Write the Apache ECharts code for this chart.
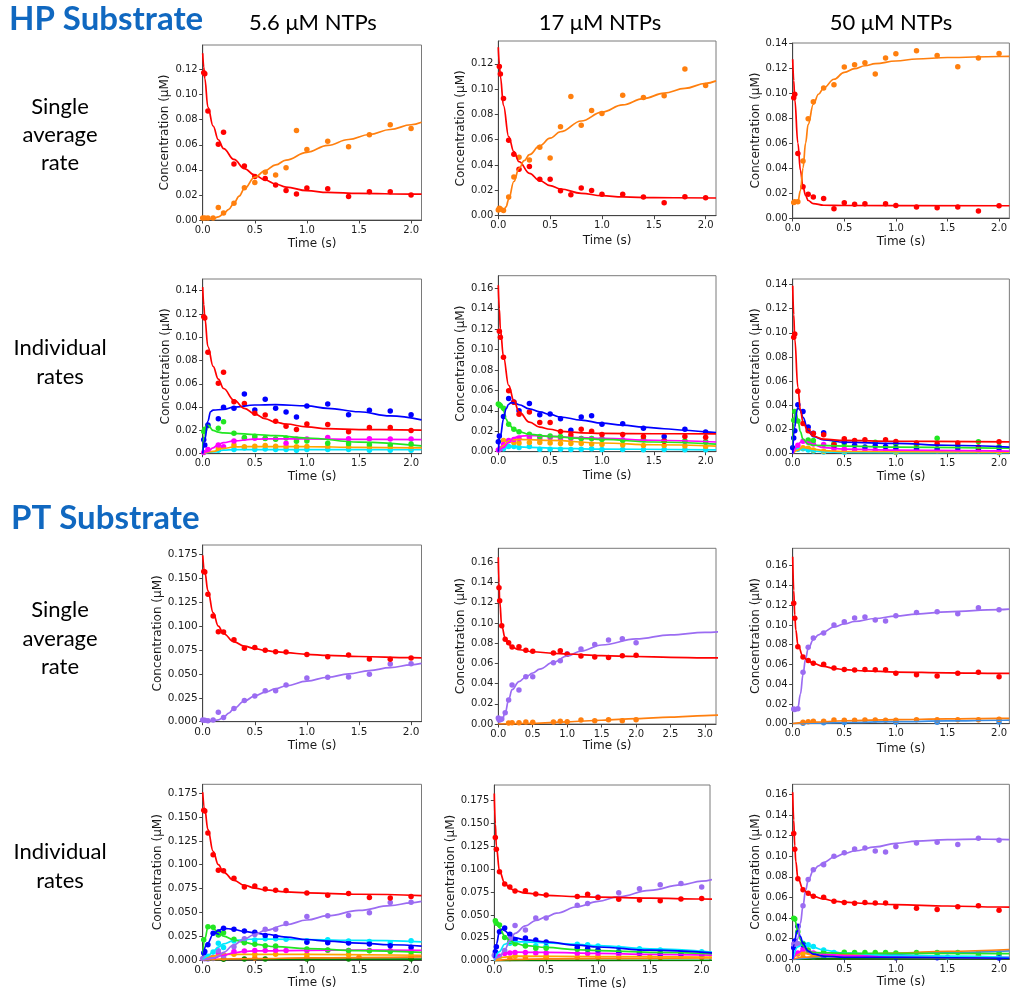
<!DOCTYPE html>
<html><head><meta charset="utf-8">
<script src="https://cdn.jsdelivr.net/npm/echarts@6/dist/echarts.min.js"></script>
<style>html,body{margin:0;padding:0;background:#fff}#c{width:1010px;height:993px}</style>
</head><body><div id="c"></div>
<script>
// ---------- tick labels ----------
const xTicks2 = [0, 0.5, 1.0, 1.5, 2.0];
const xTicks3 = [0, 0.5, 1.0, 1.5, 2.0, 2.5, 3.0];
const yTicks12 = [0, 0.02, 0.04, 0.06, 0.08, 0.10, 0.12];
const yTicks14 = [0, 0.02, 0.04, 0.06, 0.08, 0.10, 0.12, 0.14];
const yTicks16 = [0, 0.02, 0.04, 0.06, 0.08, 0.10, 0.12, 0.14, 0.16];
const yTicks175 = [0, 0.025, 0.05, 0.075, 0.1, 0.125, 0.15, 0.175];

// ---------- text ----------
const substrateTitles = ['HP Substrate', 'PT Substrate'];
const columnTitles = ['5.6 \u03bcM NTPs', '17 \u03bcM NTPs', '50 \u03bcM NTPs'];
const rowTitles = [['Single', 'average', 'rate'], ['Individual', 'rates']];
const xTitle = 'Time (s)';
const yTitle = 'Concentration (\u03bcM)';

// ---------- HP 5.6 uM ----------
const hp56_red_pts = [[0.01,0.1175],[0.02,0.1166],[0.05,0.087],[0.15,0.0605],[0.2,0.070],[0.3,0.0446],[0.4,0.043],[0.5,0.0348],[0.6,0.0332],[0.7,0.0279],[0.8,0.0236],[0.9,0.0207],[1.0,0.0255],[1.2,0.025],[1.4,0.0188],[1.6,0.0226],[1.8,0.0226],[2.0,0.020]];
const hp56_orange_pts = [[0,0.0015],[0.02,0.0015],[0.05,0.0015],[0.1,0.0015],[0.15,0.010],[0.2,0.0056],[0.3,0.0133],[0.4,0.0258],[0.5,0.030],[0.6,0.038],[0.7,0.0358],[0.8,0.0417],[0.9,0.0714],[1.0,0.0563],[1.2,0.0629],[1.4,0.0584],[1.6,0.068],[1.8,0.0759],[2.0,0.073]];
const hp56s_red_fit = [[0,0.133],[0.01,0.122],[0.02,0.113],[0.05,0.090],[0.1,0.075],[0.15,0.064],[0.2,0.057],[0.3,0.0483],[0.4,0.041],[0.5,0.0358],[0.6,0.0319],[0.7,0.0287],[0.8,0.0263],[1.0,0.0234],[1.2,0.022],[1.5,0.0212],[2.0,0.0207],[2.1,0.0207]];
const hp56s_orange_fit = [[0,0.0005],[0.1,0.001],[0.15,0.0025],[0.2,0.005],[0.25,0.0085],[0.3,0.0135],[0.35,0.019],[0.4,0.025],[0.5,0.0342],[0.6,0.0395],[0.7,0.044],[0.8,0.0478],[1.0,0.054],[1.2,0.0595],[1.4,0.0642],[1.6,0.0682],[1.8,0.0722],[2.0,0.076],[2.1,0.078]];
const hp56i_red_fit = [[0,0.143],[0.01,0.128],[0.02,0.117],[0.05,0.092],[0.1,0.075],[0.15,0.064],[0.2,0.056],[0.3,0.046],[0.4,0.039],[0.5,0.034],[0.6,0.030],[0.7,0.027],[0.8,0.0255],[1.0,0.023],[1.2,0.0215],[1.5,0.0207],[2.1,0.0203]];
const hp56_blue_pts = [[0.01,0.012],[0.02,0.0074],[0.05,0.0246],[0.15,0.030],[0.2,0.0398],[0.3,0.039],[0.4,0.0512],[0.5,0.0375],[0.6,0.0467],[0.7,0.039],[0.8,0.0358],[0.9,0.0315],[1.0,0.041],[1.2,0.0427],[1.4,0.0335],[1.6,0.0372],[1.8,0.0366],[2.0,0.0335]];
const hp56_blue_fit = [[0,0],[0.02,0.012],[0.05,0.028],[0.075,0.036],[0.1,0.0375],[0.2,0.038],[0.3,0.040],[0.5,0.0418],[0.7,0.0422],[1.0,0.041],[1.2,0.039],[1.5,0.036],[1.8,0.0325],[2.1,0.029]];
const hp56_green_pts = [[0.01,0.019],[0.02,0.021],[0.05,0.024],[0.15,0.0218],[0.2,0.0275],[0.3,0.0175],[0.4,0.014],[0.5,0.015],[0.6,0.013],[0.7,0.0125],[0.8,0.0135],[0.9,0.0106],[1.0,0.011],[1.2,0.0089],[1.4,0.0085],[1.6,0.0077],[1.8,0.0074],[2.0,0.0083]];
const hp56_green_fit = [[0,0.003],[0.02,0.018],[0.04,0.025],[0.05,0.0245],[0.1,0.02],[0.15,0.0185],[0.2,0.0178],[0.3,0.0175],[0.5,0.0165],[0.7,0.0155],[1.0,0.0135],[1.5,0.010],[2.1,0.0067]];
const hp56_magenta_pts = [[0.01,0.001],[0.05,0.0037],[0.15,0.0074],[0.2,0.006],[0.3,0.0109],[0.4,0.0132],[0.5,0.0132],[0.6,0.0132],[0.7,0.0126],[0.8,0.0089],[0.9,0.0126],[1.0,0.0126],[1.2,0.014],[1.4,0.0129],[1.6,0.0129],[1.8,0.0126],[2.0,0.0126]];
const hp56_magenta_fit = [[0,0],[0.05,0.002],[0.1,0.005],[0.15,0.008],[0.2,0.0095],[0.3,0.011],[0.5,0.0125],[0.7,0.0128],[1.0,0.0127],[1.5,0.0123],[2.1,0.012]];
const hp56_gold_pts = [[0.15,0.005],[0.3,0.0075],[0.4,0.006],[0.5,0.0065],[0.6,0.007],[0.7,0.0065],[0.8,0.006],[0.9,0.006],[1.0,0.0062],[1.2,0.006],[1.4,0.006],[1.6,0.0055],[1.8,0.0055],[2.0,0.005]];
const hp56_gold_fit = [[0,0],[0.1,0.002],[0.2,0.0045],[0.3,0.0058],[0.5,0.0062],[1.0,0.006],[1.5,0.0055],[2.1,0.005]];
const hp56_cyan_pts = [[0.15,0.003],[0.3,0.0037],[0.4,0.005],[0.5,0.0035],[0.6,0.004],[0.7,0.0035],[0.8,0.0035],[0.9,0.003],[1.0,0.0035],[1.2,0.0035],[1.4,0.0035],[1.6,0.003],[1.8,0.003],[2.0,0.003]];
const hp56_cyan_fit = [[0,0],[0.1,0.0015],[0.2,0.003],[0.3,0.0035],[1.0,0.0036],[2.1,0.0034]];

// ---------- HP 17 uM ----------
const hp17_red_pts = [[0.01,0.1179],[0.02,0.112],[0.05,0.0926],[0.1,0.0596],[0.15,0.0485],[0.2,0.0367],[0.3,0.0388],[0.4,0.0287],[0.5,0.0287],[0.6,0.0198],[0.7,0.0166],[0.8,0.0219],[0.9,0.020],[1.0,0.0169],[1.2,0.0169],[1.4,0.0148],[1.6,0.0103],[1.8,0.015],[2.0,0.0142]];
const hp17_orange_pts = [[0,0.0045],[0.01,0.0058],[0.02,0.0053],[0.05,0.0042],[0.1,0.0148],[0.15,0.0306],[0.2,0.0462],[0.3,0.044],[0.4,0.054],[0.5,0.0456],[0.6,0.0702],[0.7,0.0942],[0.8,0.0715],[0.9,0.0831],[1.0,0.0807],[1.2,0.0952],[1.4,0.0934],[1.6,0.0947],[1.8,0.1158],[2.0,0.1029]];
const hp17s_red_fit = [[0,0.133],[0.01,0.12],[0.02,0.11],[0.05,0.087],[0.1,0.0625],[0.15,0.0506],[0.2,0.0427],[0.3,0.0335],[0.4,0.0277],[0.5,0.0237],[0.6,0.0211],[0.8,0.0177],[1.0,0.0158],[1.2,0.0148],[1.5,0.0142],[2.1,0.014]];
const hp17s_orange_fit = [[0,0.004],[0.05,0.004],[0.075,0.007],[0.1,0.013],[0.15,0.027],[0.2,0.0374],[0.25,0.0435],[0.3,0.0482],[0.4,0.0553],[0.5,0.0612],[0.6,0.0663],[0.8,0.0748],[1.0,0.0818],[1.2,0.0875],[1.4,0.0925],[1.6,0.0968],[1.8,0.1006],[2.0,0.1045],[2.1,0.1065]];
const hp17i_red_fit = [[0,0.163],[0.01,0.14],[0.02,0.12],[0.05,0.093],[0.1,0.065],[0.15,0.05],[0.2,0.039],[0.3,0.029],[0.4,0.024],[0.5,0.022],[0.6,0.020],[0.7,0.0193],[0.8,0.0185],[1.0,0.018],[1.5,0.0176],[2.1,0.0175]];
const hp17_blue_pts = [[0,0.0098],[0.01,0.0153],[0.05,0.0346],[0.1,0.0522],[0.15,0.0487],[0.2,0.0402],[0.3,0.0473],[0.4,0.0362],[0.5,0.0369],[0.6,0.0323],[0.7,0.0209],[0.8,0.034],[0.9,0.0353],[1.0,0.0268],[1.2,0.0274],[1.4,0.0229],[1.6,0.015],[1.8,0.0219],[2.0,0.0193]];
const hp17_blue_fit = [[0,0],[0.02,0.015],[0.05,0.032],[0.075,0.042],[0.1,0.0465],[0.125,0.048],[0.15,0.0478],[0.2,0.046],[0.3,0.042],[0.4,0.039],[0.5,0.0365],[0.6,0.034],[0.8,0.031],[1.0,0.028],[1.2,0.026],[1.4,0.024],[1.6,0.0225],[1.8,0.021],[2.0,0.0195],[2.1,0.0188]];
const hp17_green_pts = [[0,0.0467],[0.01,0.046],[0.02,0.045],[0.05,0.0425],[0.1,0.0268],[0.15,0.022],[0.2,0.0196],[0.3,0.017],[0.4,0.015],[0.5,0.0155],[0.6,0.015],[0.7,0.014],[0.8,0.013],[0.9,0.013],[1.0,0.012],[1.2,0.011],[1.4,0.012],[1.6,0.011],[1.8,0.0105],[2.0,0.0098]];
const hp17_green_fit = [[0,0.047],[0.02,0.046],[0.05,0.040],[0.075,0.032],[0.1,0.027],[0.15,0.022],[0.2,0.0195],[0.3,0.017],[0.5,0.015],[0.8,0.013],[1.0,0.012],[1.5,0.0095],[2.1,0.0075]];
const hp17_magenta_pts = [[0,0.0016],[0.02,0.003],[0.05,0.007],[0.1,0.011],[0.15,0.012],[0.2,0.013],[0.3,0.014],[0.4,0.013],[0.5,0.0137],[0.6,0.013],[0.7,0.013],[0.8,0.013],[0.9,0.013],[1.0,0.0127],[1.2,0.0118],[1.4,0.0118],[1.6,0.0108],[1.8,0.010],[2.0,0.0098]];
const hp17_magenta_fit = [[0,0],[0.05,0.004],[0.1,0.009],[0.15,0.0135],[0.2,0.0152],[0.3,0.0158],[0.4,0.0155],[0.5,0.015],[0.8,0.0138],[1.0,0.013],[1.5,0.0112],[2.1,0.0095]];
const hp17_gold_pts = [[0.05,0.011],[0.1,0.0108],[0.15,0.009],[0.2,0.0085],[0.3,0.009],[0.4,0.009],[0.5,0.0085],[0.6,0.008],[0.7,0.008],[0.8,0.008],[0.9,0.0075],[1.0,0.007],[1.2,0.0065],[1.4,0.006],[1.6,0.006],[1.8,0.0055],[2.0,0.005]];
const hp17_gold_fit = [[0,0],[0.05,0.006],[0.1,0.0105],[0.15,0.0118],[0.2,0.012],[0.3,0.0118],[0.5,0.011],[1.0,0.0085],[1.5,0.0068],[2.1,0.0055]];
const hp17_cyan_pts = [[0.05,0.003],[0.1,0.005],[0.15,0.0052],[0.2,0.0042],[0.3,0.005],[0.4,0.0023],[0.5,0.0023],[0.6,0.0025],[0.7,0.0022],[0.8,0.0025],[0.9,0.003],[1.0,0.0022],[1.2,0.0022],[1.4,0.002],[1.6,0.0022],[1.8,0.002],[2.0,0.002]];
const hp17_cyan_fit = [[0,0],[0.05,0.003],[0.1,0.0048],[0.15,0.005],[0.2,0.0048],[0.3,0.0043],[0.5,0.0035],[1.0,0.0025],[2.1,0.0018]];

// ---------- HP 50 uM ----------
const hp50_red_pts = [[0.01,0.0963],[0.02,0.099],[0.05,0.0517],[0.1,0.025],[0.15,0.019],[0.2,0.0168],[0.3,0.0157],[0.4,0.0075],[0.5,0.0123],[0.6,0.011],[0.7,0.0115],[0.9,0.0115],[1.0,0.010],[1.2,0.0088],[1.4,0.0083],[1.6,0.0088],[1.8,0.0056],[2.0,0.0099]];
const hp50_orange_pts = [[0.01,0.0125],[0.02,0.013],[0.05,0.013],[0.1,0.0456],[0.15,0.0795],[0.2,0.093],[0.3,0.104],[0.4,0.1067],[0.5,0.1208],[0.6,0.1227],[0.7,0.1243],[0.8,0.1152],[0.9,0.128],[1.0,0.1315],[1.2,0.1339],[1.4,0.1301],[1.6,0.121],[1.8,0.128],[2.0,0.1317]];
const hp50s_red_fit = [[0,0.127],[0.01,0.11],[0.02,0.095],[0.05,0.06],[0.075,0.038],[0.1,0.025],[0.125,0.018],[0.15,0.014],[0.2,0.0115],[0.3,0.0102],[0.5,0.010],[2.1,0.0098]];
const hp50s_orange_fit = [[0,0.012],[0.05,0.013],[0.075,0.022],[0.1,0.04],[0.125,0.06],[0.15,0.075],[0.2,0.091],[0.25,0.099],[0.3,0.104],[0.4,0.111],[0.5,0.1165],[0.6,0.1195],[0.7,0.1218],[0.8,0.1235],[1.0,0.1256],[1.2,0.1272],[1.5,0.1284],[2.0,0.1292],[2.1,0.1293]];
const hp50i_red_fit = [[0,0.139],[0.01,0.115],[0.02,0.095],[0.05,0.055],[0.075,0.036],[0.1,0.026],[0.15,0.018],[0.2,0.0145],[0.3,0.012],[0.5,0.011],[1.0,0.0103],[2.1,0.0098]];
const hp50_blue_pts = [[0,0.005],[0.01,0.013],[0.02,0.019],[0.05,0.0405],[0.1,0.035],[0.15,0.022],[0.2,0.017],[0.3,0.0174],[0.4,0.0063],[0.5,0.0099],[0.6,0.007],[0.7,0.0055],[0.8,0.0066],[0.9,0.006],[1.0,0.005],[1.2,0.0041],[1.4,0.0041],[1.6,0.0047],[1.8,0.0041],[2.0,0.0047]];
const hp50_blue_fit = [[0,0],[0.02,0.022],[0.04,0.036],[0.05,0.038],[0.075,0.036],[0.1,0.03],[0.15,0.019],[0.2,0.014],[0.3,0.0115],[0.5,0.0095],[1.0,0.0085],[1.5,0.007],[2.1,0.0055]];
const hp50_green_pts = [[0.01,0.0276],[0.02,0.035],[0.05,0.027],[0.15,0.0113],[0.2,0.011],[0.4,0.0085],[0.5,0.0085],[0.8,0.0094],[1.0,0.008],[1.2,0.0069],[1.4,0.0127],[1.6,0.0066],[1.8,0.0099],[2.0,0.006]];
const hp50_green_fit = [[0,0.005],[0.01,0.025],[0.02,0.033],[0.03,0.035],[0.05,0.028],[0.075,0.018],[0.1,0.012],[0.15,0.008],[0.2,0.007],[0.5,0.0062],[1.0,0.0055],[2.1,0.0045]];
const hp50_magenta_pts = [[0.05,0.007],[0.1,0.0102],[0.15,0.0094],[0.2,0.008],[0.3,0.0077],[0.4,0.0041],[0.5,0.0039],[0.6,0.0035],[0.7,0.0035],[0.8,0.003],[0.9,0.0035],[1.0,0.003],[1.2,0.003],[1.4,0.0025],[1.6,0.0025],[1.8,0.0025],[2.0,0.0022]];
const hp50_magenta_fit = [[0,0],[0.05,0.006],[0.075,0.0095],[0.1,0.0105],[0.15,0.0095],[0.2,0.0075],[0.3,0.005],[0.5,0.0038],[1.0,0.003],[2.1,0.0022]];
const hp50_gold_pts = [[0.1,0.005],[0.15,0.0045],[0.2,0.003],[0.3,0.002],[0.5,0.002],[1.0,0.0015],[2.0,0.0012]];
const hp50_gold_fit = [[0,0],[0.05,0.003],[0.1,0.0055],[0.15,0.005],[0.2,0.0038],[0.3,0.0025],[0.5,0.0018],[2.1,0.0012]];
const hp50_cyan_pts = [[0.05,0.0036],[0.1,0.004],[0.15,0.003],[0.2,0.0022],[0.3,0.0015],[0.5,0.0012],[1.0,0.001],[2.0,0.0008]];
const hp50_cyan_fit = [[0,0],[0.05,0.0035],[0.1,0.0038],[0.15,0.003],[0.2,0.0022],[0.3,0.0015],[0.5,0.001],[2.1,0.0008]];

// ---------- PT 5.6 uM ----------
const pt56_red_pts = [[0.01,0.1572],[0.02,0.1565],[0.05,0.1332],[0.1,0.1105],[0.15,0.0941],[0.2,0.0938],[0.3,0.0858],[0.4,0.0767],[0.5,0.0777],[0.6,0.0746],[0.7,0.0732],[0.8,0.0729],[1.0,0.0704],[1.2,0.068],[1.4,0.0697],[1.6,0.0655],[1.8,0.0652],[2.0,0.0666]];
const pt56_purple_pts = [[0,0.0017],[0.02,0.0014],[0.05,0.001],[0.1,0.0017],[0.15,0.0098],[0.2,0.0045],[0.3,0.0139],[0.4,0.0223],[0.5,0.0268],[0.6,0.0324],[0.7,0.0324],[0.8,0.0383],[1.0,0.0457],[1.2,0.0464],[1.4,0.0467],[1.6,0.0495],[1.8,0.0603],[2.0,0.0607]];
const pt56s_red_fit = [[0,0.174],[0.02,0.157],[0.05,0.137],[0.1,0.114],[0.15,0.100],[0.2,0.092],[0.3,0.0835],[0.4,0.079],[0.5,0.0765],[0.6,0.0745],[0.7,0.0732],[0.8,0.0722],[1.0,0.0705],[1.2,0.0693],[1.5,0.0682],[2.0,0.067],[2.1,0.0668]];
const pt56s_purple_fit = [[0,0],[0.1,0.001],[0.15,0.002],[0.2,0.0045],[0.25,0.009],[0.3,0.014],[0.4,0.0215],[0.5,0.027],[0.6,0.031],[0.7,0.0345],[0.8,0.0375],[1.0,0.0425],[1.2,0.0465],[1.4,0.050],[1.6,0.0535],[1.8,0.0565],[2.0,0.0595],[2.1,0.061]];
const pt56i_red_fit = [[0,0.176],[0.02,0.158],[0.05,0.137],[0.1,0.114],[0.15,0.100],[0.2,0.092],[0.3,0.0835],[0.4,0.0785],[0.5,0.0755],[0.6,0.0735],[0.8,0.0715],[1.0,0.0705],[1.5,0.069],[2.1,0.0675]];
const pt56i_purple_fit = [[0,0],[0.1,0.002],[0.15,0.004],[0.2,0.008],[0.3,0.016],[0.4,0.022],[0.5,0.027],[0.6,0.031],[0.8,0.037],[1.0,0.042],[1.2,0.0465],[1.5,0.052],[1.8,0.057],[2.0,0.060],[2.1,0.0615]];
const pt56_green_pts = [[0.01,0.0213],[0.05,0.035],[0.1,0.0343],[0.15,0.0263],[0.2,0.0287],[0.3,0.0217],[0.4,0.0182],[0.5,0.0165],[0.6,0.015],[0.7,0.0147],[1.0,0.0116],[1.2,0.0105],[1.4,0.010],[1.6,0.0098],[1.8,0.0088],[2.0,0.0084]];
const pt56_green_fit = [[0,0.005],[0.02,0.022],[0.05,0.034],[0.075,0.0345],[0.1,0.033],[0.15,0.029],[0.2,0.025],[0.3,0.021],[0.4,0.0185],[0.5,0.0165],[0.7,0.014],[1.0,0.012],[1.5,0.0098],[2.1,0.008]];
const pt56_blue_pts = [[0.01,0.0073],[0.02,0.009],[0.05,0.016],[0.1,0.028],[0.15,0.0294],[0.2,0.0332],[0.3,0.0322],[0.4,0.0305],[0.5,0.029],[0.6,0.0256],[0.7,0.0245],[1.0,0.0185],[1.2,0.0182],[1.4,0.0178],[1.6,0.0168],[1.8,0.015],[2.0,0.0133]];
const pt56_blue_fit = [[0,0.005],[0.05,0.018],[0.1,0.027],[0.15,0.031],[0.2,0.033],[0.25,0.0328],[0.3,0.032],[0.4,0.030],[0.5,0.0285],[0.6,0.027],[0.8,0.024],[1.0,0.0215],[1.2,0.0198],[1.5,0.0178],[1.8,0.016],[2.1,0.0145]];
const pt56_cyan_pts = [[0.05,0.004],[0.1,0.0084],[0.15,0.0175],[0.2,0.013],[0.3,0.02],[0.4,0.021],[0.5,0.021],[0.6,0.0224],[0.7,0.0224],[0.8,0.0217],[1.0,0.0203],[1.2,0.0213],[1.4,0.02],[1.6,0.0193],[1.8,0.0182],[2.0,0.0203]];
const pt56_cyan_fit = [[0,0],[0.05,0.004],[0.1,0.009],[0.15,0.0135],[0.2,0.017],[0.3,0.0205],[0.4,0.0215],[0.5,0.022],[0.7,0.022],[1.0,0.0215],[1.5,0.0205],[2.1,0.019]];
const pt56_magenta_pts = [[0.1,0.003],[0.15,0.0077],[0.2,0.005],[0.3,0.0088],[0.4,0.0095],[0.5,0.010],[0.6,0.010],[0.7,0.0102],[0.8,0.010],[1.0,0.010],[1.2,0.0102],[1.4,0.010],[1.6,0.010],[1.8,0.0098],[2.0,0.010]];
const pt56_magenta_fit = [[0,0],[0.1,0.002],[0.2,0.005],[0.3,0.0075],[0.4,0.009],[0.5,0.0095],[1.0,0.0102],[1.5,0.0103],[2.1,0.0102]];
const pt56_gold_pts = [[0.15,0.006],[0.2,0.0055],[0.3,0.006],[0.5,0.006],[0.7,0.006],[1.0,0.0058],[1.4,0.0055],[2.0,0.005]];
const pt56_gold_fit = [[0,0],[0.1,0.004],[0.2,0.0058],[0.5,0.006],[1.0,0.0058],[2.1,0.005]];
const pt56_orange_pts = [[0.2,0.002],[0.5,0.002],[1.0,0.0025],[1.5,0.003],[2.0,0.003]];
const pt56_orange_fit = [[0,0],[0.5,0.0015],[1.0,0.0022],[2.1,0.0032]];
const pt56_dgreen_pts = [[0.2,0.0008],[0.4,0.001],[0.6,0.001],[1.0,0.001],[1.4,0.001],[2.0,0.001]];
const pt56_dgreen_fit = [[0,0],[0.3,0.0008],[2.1,0.001]];

// ---------- PT 17 uM ----------
const pt17_red_pts = [[0.01,0.1349],[0.02,0.122],[0.05,0.0973],[0.1,0.0838],[0.15,0.0805],[0.2,0.0762],[0.3,0.0765],[0.4,0.0729],[0.5,0.0719],[0.8,0.0703],[0.9,0.0726],[1.0,0.069],[1.2,0.0673],[1.4,0.0663],[1.6,0.0657],[1.8,0.0676],[2.0,0.068]];
const pt17_purple_pts = [[0,0.0059],[0.01,0.0045],[0.02,0.004],[0.05,0.005],[0.1,0.0112],[0.15,0.0238],[0.2,0.0386],[0.3,0.0336],[0.4,0.0468],[0.5,0.0468],[0.8,0.0607],[0.9,0.0627],[1.0,0.0696],[1.2,0.0742],[1.4,0.0788],[1.6,0.0831],[1.8,0.0845],[2.0,0.0805]];
const pt17_orange_pts = [[0.15,0.001],[0.2,0.0013],[0.3,0.0013],[0.4,0.002],[0.5,0.0017],[0.8,0.002],[0.9,0.0026],[1.0,0.0023],[1.2,0.004],[1.4,0.0033],[1.6,0.0043],[1.8,0.0033],[2.0,0.0043]];
const pt17s_red_fit = [[0,0.165],[0.01,0.14],[0.02,0.122],[0.05,0.097],[0.1,0.085],[0.15,0.079],[0.2,0.076],[0.3,0.0735],[0.5,0.0715],[0.8,0.070],[1.0,0.0693],[1.5,0.0677],[2.0,0.0668],[2.5,0.066],[3.0,0.0655],[3.2,0.0654]];
const pt17s_purple_fit = [[0,0.002],[0.05,0.003],[0.1,0.011],[0.15,0.024],[0.2,0.034],[0.3,0.042],[0.4,0.0465],[0.5,0.0505],[0.6,0.0543],[0.8,0.0612],[1.0,0.0673],[1.2,0.0722],[1.5,0.0782],[2.0,0.0842],[2.5,0.0882],[3.0,0.0906],[3.2,0.0912]];
const pt17s_orange_fit = [[0,0],[0.5,0.0007],[1.0,0.0022],[1.5,0.0037],[2.0,0.0053],[2.5,0.0068],[3.0,0.0083],[3.2,0.0088]];
const pt17i_red_fit = [[0,0.183],[0.01,0.15],[0.02,0.125],[0.05,0.098],[0.1,0.085],[0.15,0.079],[0.2,0.0765],[0.3,0.074],[0.5,0.0715],[0.8,0.070],[1.0,0.0695],[1.5,0.0685],[2.0,0.0675],[2.1,0.0673]];
const pt17i_purple_fit = [[0,0.002],[0.05,0.004],[0.1,0.012],[0.15,0.022],[0.2,0.03],[0.3,0.038],[0.4,0.044],[0.5,0.048],[0.6,0.052],[0.8,0.059],[1.0,0.065],[1.2,0.07],[1.5,0.077],[1.8,0.083],[2.0,0.087],[2.1,0.0888]];
const pt17_green_pts = [[0.01,0.0437],[0.02,0.041],[0.05,0.039],[0.1,0.0255],[0.15,0.021],[0.2,0.0186],[0.3,0.016],[0.4,0.0135],[0.5,0.0135],[0.8,0.0124],[0.9,0.012],[1.0,0.0117],[1.2,0.0095],[1.4,0.009],[1.6,0.0088],[1.8,0.0082],[2.0,0.008]];
const pt17_green_fit = [[0,0.045],[0.02,0.042],[0.05,0.036],[0.1,0.027],[0.15,0.022],[0.2,0.019],[0.3,0.0165],[0.5,0.0145],[0.8,0.012],[1.0,0.011],[1.5,0.0092],[2.1,0.0078]];
const pt17_blue_pts = [[0.01,0.0098],[0.02,0.0153],[0.05,0.0317],[0.1,0.0357],[0.15,0.029],[0.2,0.0233],[0.3,0.0248],[0.4,0.0226],[0.5,0.0204],[0.8,0.0146],[0.9,0.0131],[1.0,0.0113],[1.2,0.0095],[1.4,0.0084],[1.6,0.0073],[1.8,0.0073],[2.0,0.0069]];
const pt17_blue_fit = [[0,0.003],[0.02,0.018],[0.05,0.032],[0.075,0.0345],[0.1,0.033],[0.15,0.028],[0.2,0.025],[0.3,0.0228],[0.5,0.0205],[0.8,0.017],[1.0,0.015],[1.5,0.0115],[2.1,0.0085]];
const pt17_cyan_pts = [[0.15,0.019],[0.2,0.019],[0.3,0.0171],[0.4,0.0164],[0.5,0.0157],[0.8,0.0179],[0.9,0.0175],[1.0,0.016],[1.2,0.0139],[1.4,0.0131],[1.6,0.0117],[1.8,0.0098],[2.0,0.0098]];
const pt17_cyan_fit = [[0,0],[0.05,0.01],[0.1,0.018],[0.15,0.0205],[0.2,0.0208],[0.3,0.0205],[0.5,0.0195],[0.8,0.0178],[1.0,0.0165],[1.5,0.013],[2.1,0.0095]];
const pt17_magenta_pts = [[0.1,0.008],[0.15,0.0085],[0.2,0.009],[0.3,0.009],[0.4,0.0085],[0.5,0.0085],[0.8,0.008],[0.9,0.008],[1.0,0.0078],[1.2,0.007],[1.4,0.0068],[1.6,0.006],[1.8,0.0055],[2.0,0.005]];
const pt17_magenta_fit = [[0,0],[0.05,0.006],[0.1,0.0085],[0.2,0.0093],[0.5,0.009],[1.0,0.008],[1.5,0.007],[2.1,0.006]];
const pt17_gold_pts = [[0.2,0.005],[0.5,0.005],[1.0,0.0045],[1.5,0.004],[2.0,0.004]];
const pt17_gold_fit = [[0,0],[0.1,0.004],[0.2,0.005],[1.0,0.0045],[2.1,0.004]];
const pt17i_orange_pts = [[0.15,0.0025],[0.3,0.0035],[0.5,0.0036],[0.8,0.0036],[1.0,0.0036],[1.2,0.0036],[1.6,0.0036],[2.0,0.0036]];
const pt17i_orange_fit = [[0,0],[0.2,0.0015],[0.5,0.002],[1.0,0.0025],[2.1,0.003]];
const pt17_dgreen_fit = [[0,0],[0.3,0.0004],[2.1,0.0005]];

// ---------- PT 50 uM ----------
const pt50_red_pts = [[0.01,0.1219],[0.02,0.1067],[0.05,0.078],[0.1,0.0675],[0.15,0.0641],[0.2,0.0611],[0.3,0.0601],[0.4,0.0564],[0.5,0.055],[0.6,0.0543],[0.7,0.055],[0.8,0.0547],[0.9,0.0547],[1.0,0.051],[1.2,0.0496],[1.4,0.0483],[1.6,0.051],[1.8,0.052],[2.0,0.0476]];
const pt50_purple_pts = [[0.01,0.0149],[0.02,0.0145],[0.05,0.0152],[0.1,0.052],[0.15,0.0773],[0.2,0.0868],[0.3,0.0918],[0.4,0.0999],[0.5,0.1033],[0.6,0.107],[0.7,0.108],[0.8,0.105],[0.9,0.104],[1.0,0.1094],[1.2,0.1127],[1.4,0.1134],[1.6,0.1114],[1.8,0.1175],[2.0,0.1154]];
const pt50_orange_pts = [[0.1,0.0014],[0.15,0.002],[0.2,0.0024],[0.3,0.0025],[0.4,0.0037],[0.5,0.0035],[0.6,0.0035],[0.7,0.0037],[0.8,0.0037],[0.9,0.0035],[1.0,0.0035],[1.2,0.004],[1.4,0.004],[1.6,0.004],[1.8,0.004],[2.0,0.0044]];
const pt50_dblue_pts = [[0.1,0.0005],[0.3,0.001],[0.5,0.0012],[1.0,0.0015],[1.4,0.0015],[2.0,0.0018]];
const pt50s_red_fit = [[0,0.169],[0.01,0.135],[0.02,0.11],[0.03,0.095],[0.05,0.08],[0.1,0.068],[0.15,0.0635],[0.2,0.061],[0.3,0.058],[0.4,0.056],[0.5,0.0548],[0.7,0.0535],[1.0,0.0523],[1.5,0.0515],[2.0,0.051],[2.1,0.051]];
const pt50s_purple_fit = [[0,0.015],[0.05,0.016],[0.075,0.03],[0.1,0.05],[0.125,0.066],[0.15,0.076],[0.2,0.085],[0.25,0.09],[0.3,0.093],[0.4,0.098],[0.5,0.101],[0.6,0.1035],[0.8,0.1065],[1.0,0.109],[1.2,0.111],[1.5,0.1133],[2.0,0.1155],[2.1,0.116]];
const pt50s_orange_fit = [[0,0],[0.2,0.0015],[0.5,0.003],[1.0,0.0042],[1.5,0.0048],[2.0,0.0053],[2.1,0.0054]];
const pt50s_dblue_fit = [[0,0],[0.2,0.0005],[0.5,0.0012],[1.0,0.002],[1.5,0.0028],[2.0,0.0035],[2.1,0.0037]];
const pt50i_red_fit = [[0,0.162],[0.01,0.135],[0.02,0.11],[0.03,0.095],[0.05,0.079],[0.1,0.068],[0.15,0.0635],[0.2,0.061],[0.3,0.0585],[0.4,0.0565],[0.5,0.0555],[0.7,0.0542],[1.0,0.053],[1.5,0.0517],[2.0,0.0507],[2.1,0.0505]];
const pt50i_purple_fit = [[0,0.015],[0.03,0.016],[0.05,0.02],[0.075,0.035],[0.1,0.052],[0.125,0.067],[0.15,0.0765],[0.2,0.086],[0.25,0.0905],[0.3,0.094],[0.4,0.099],[0.5,0.1025],[0.6,0.105],[0.8,0.109],[1.0,0.1125],[1.2,0.1145],[1.5,0.116],[1.8,0.1165],[2.0,0.1163],[2.1,0.116]];
const pt50_green_pts = [[0.01,0.0398],[0.02,0.039],[0.05,0.0268],[0.1,0.015],[0.15,0.009],[0.3,0.007],[0.5,0.0068],[0.6,0.0065],[0.7,0.0065],[0.8,0.0065],[0.9,0.0065],[1.0,0.0062],[1.2,0.0065],[1.4,0.0065],[1.6,0.0065],[1.8,0.006],[2.0,0.006]];
const pt50_green_fit = [[0,0.04],[0.02,0.038],[0.05,0.028],[0.075,0.019],[0.1,0.013],[0.15,0.008],[0.2,0.0065],[0.5,0.0058],[1.0,0.0058],[2.1,0.0055]];
const pt50_blue_pts = [[0.01,0.0113],[0.02,0.0178],[0.05,0.032],[0.1,0.014],[0.3,0.003],[0.5,0.002],[1.0,0.0015],[1.4,0.0015],[2.0,0.0012]];
const pt50_blue_fit = [[0,0],[0.02,0.018],[0.04,0.027],[0.05,0.028],[0.075,0.022],[0.1,0.015],[0.15,0.008],[0.2,0.005],[0.3,0.003],[0.5,0.002],[2.1,0.001]];
const pt50_cyan_pts = [[0.05,0.015],[0.1,0.0155],[0.15,0.014],[0.2,0.0123],[0.3,0.009],[0.4,0.0065],[0.5,0.005],[0.7,0.004],[1.0,0.0035],[1.4,0.003],[2.0,0.0025]];
const pt50_cyan_fit = [[0,0],[0.05,0.012],[0.1,0.0145],[0.15,0.013],[0.2,0.0115],[0.3,0.009],[0.5,0.006],[1.0,0.0035],[2.1,0.002]];
const pt50_magenta_pts = [[0.05,0.006],[0.1,0.01],[0.15,0.0074],[0.2,0.006],[0.3,0.004],[0.5,0.003],[1.0,0.0025],[2.0,0.002]];
const pt50_magenta_fit = [[0,0],[0.05,0.006],[0.1,0.0095],[0.15,0.0085],[0.2,0.007],[0.3,0.005],[0.5,0.0035],[1.0,0.0025],[2.1,0.002]];
const pt50_gold_pts = [[0.05,0.005],[0.1,0.006],[0.2,0.004],[0.5,0.002],[1.0,0.0015]];
const pt50_gold_fit = [[0,0],[0.05,0.005],[0.1,0.006],[0.2,0.004],[0.5,0.002],[2.1,0.0012]];
const pt50i_orange_pts = [[0.1,0.002],[0.3,0.003],[0.5,0.004],[0.8,0.004],[1.0,0.004],[1.4,0.004],[1.8,0.004],[2.0,0.004]];
const pt50i_orange_fit = [[0,0],[0.1,0.002],[0.3,0.003],[0.5,0.0045],[1.0,0.006],[1.5,0.0078],[2.1,0.0095]];
const pt50i_dblue_pts = [[0.2,0.002],[0.5,0.002],[1.0,0.0025],[1.5,0.002],[2.0,0.002]];
const pt50i_dblue_fit = [[0,0],[0.5,0.003],[1.0,0.005],[1.5,0.0065],[2.1,0.0082]];
const pt50_dgreen_fit = [[0,0],[0.3,0.0007],[2.1,0.0008]];

// ---------- colours ----------
const C = {
  red:'#ff0000', orange:'#ff7f0e', blue:'#0000ff', green:'#22e622', magenta:'#ff00ff',
  cyan:'#00e8ff', gold:'#ffa500', purple:'#9b6cf2', dblue:'#3a8ee6', dgreen:'#008000'
};

// ---------- layout of the 12 panels (pixel boxes) ----------
const panels = [
  {box:[202.7,45,218.8,175], xmax:2.1, xt:xTicks2, ymax:0.1396, yt:yTicks12, dec:2, yGap:32, xGap:18, fs:10,
   layers:[['red',hp56_red_pts,hp56s_red_fit],['orange',hp56_orange_pts,hp56s_orange_fit]]},
  {box:[498.3,41,217.7,174.7], xmax:2.1, xt:xTicks2, ymax:0.138, yt:yTicks12, dec:2, yGap:30, xGap:19, fs:10,
   layers:[['red',hp17_red_pts,hp17s_red_fit],['orange',hp17_orange_pts,hp17s_orange_fit]]},
  {box:[792.7,43,218.5,175], xmax:2.1, xt:xTicks2, ymax:0.14, yt:yTicks14, dec:2, yGap:31, xGap:18, fs:10,
   layers:[['red',hp50_red_pts,hp50s_red_fit],['orange',hp50_orange_pts,hp50s_orange_fit]]},
  {box:[202.7,279,218.8,174.7], xmax:2.1, xt:xTicks2, ymax:0.150, yt:yTicks14, dec:2, yGap:31, xGap:17.3, fs:10,
   layers:[['cyan',hp56_cyan_pts,hp56_cyan_fit],['gold',hp56_gold_pts,hp56_gold_fit],['magenta',hp56_magenta_pts,hp56_magenta_fit],['green',hp56_green_pts,hp56_green_fit],['blue',hp56_blue_pts,hp56_blue_fit],['red',hp56_red_pts,hp56i_red_fit]]},
  {box:[498.3,275.7,217.7,176], xmax:2.1, xt:xTicks2, ymax:0.1724, yt:yTicks16, dec:2, yGap:30, xGap:18, fs:10,
   layers:[['cyan',hp17_cyan_pts,hp17_cyan_fit],['gold',hp17_gold_pts,hp17_gold_fit],['magenta',hp17_magenta_pts,hp17_magenta_fit],['green',hp17_green_pts,hp17_green_fit],['blue',hp17_blue_pts,hp17_blue_fit],['red',hp17_red_pts,hp17i_red_fit]]},
  {box:[792.7,279,218.5,174.7], xmax:2.1, xt:xTicks2, ymax:0.1445, yt:yTicks14, dec:2, yGap:30, xGap:17.3, fs:10,
   layers:[['cyan',hp50_cyan_pts,hp50_cyan_fit],['gold',hp50_gold_pts,hp50_gold_fit],['magenta',hp50_magenta_pts,hp50_magenta_fit],['green',hp50_green_pts,hp50_green_fit],['blue',hp50_blue_pts,hp50_blue_fit],['red',hp50_red_pts,hp50i_red_fit]]},
  {box:[202.7,545,218.8,176.7], xmax:2.1, xt:xTicks2, ymax:0.1848, yt:yTicks175, dec:3, yGap:36, xGap:18.6, fs:10.5,
   layers:[['purple',pt56_purple_pts,pt56s_purple_fit],['red',pt56_red_pts,pt56s_red_fit]]},
  {box:[498.3,548.3,217.7,175.7], xmax:3.16, xt:xTicks3, ymax:0.1739, yt:yTicks16, dec:2, yGap:30, xGap:12, fs:10,
   layers:[['orange',pt17_orange_pts,pt17s_orange_fit],['purple',pt17_purple_pts,pt17s_purple_fit],['red',pt17_red_pts,pt17s_red_fit]]},
  {box:[792.7,548.3,218.5,175.4], xmax:2.1, xt:xTicks2, ymax:0.1776, yt:yTicks16, dec:2, yGap:30, xGap:19.3, fs:10,
   layers:[['dblue',pt50_dblue_pts,pt50s_dblue_fit],['orange',pt50_orange_pts,pt50s_orange_fit],['purple',pt50_purple_pts,pt50s_purple_fit],['red',pt50_red_pts,pt50s_red_fit]]},
  {box:[202.7,784.3,218.8,175.7], xmax:2.1, xt:xTicks2, ymax:0.1844, yt:yTicks175, dec:3, yGap:36.5, xGap:16.3, fs:10.5,
   layers:[['dgreen',pt56_dgreen_pts,pt56_dgreen_fit],['orange',pt56_orange_pts,pt56_orange_fit],['gold',pt56_gold_pts,pt56_gold_fit],['magenta',pt56_magenta_pts,pt56_magenta_fit],['cyan',pt56_cyan_pts,pt56_cyan_fit],['green',pt56_green_pts,pt56_green_fit],['blue',pt56_blue_pts,pt56_blue_fit],['purple',pt56_purple_pts,pt56i_purple_fit],['red',pt56_red_pts,pt56i_red_fit]]},
  {box:[494.3,785,215.7,175.7], xmax:2.08, xt:xTicks2, ymax:0.1922, yt:yTicks175, dec:3, yGap:37.5, xGap:17.3, fs:10,
   layers:[['dgreen',null,pt17_dgreen_fit],['orange',pt17i_orange_pts,pt17i_orange_fit],['gold',pt17_gold_pts,pt17_gold_fit],['magenta',pt17_magenta_pts,pt17_magenta_fit],['cyan',pt17_cyan_pts,pt17_cyan_fit],['green',pt17_green_pts,pt17_green_fit],['blue',pt17_blue_pts,pt17_blue_fit],['purple',pt17_purple_pts,pt17i_purple_fit],['red',pt17_red_pts,pt17i_red_fit]]},
  {box:[792.7,784.3,218.5,175], xmax:2.1, xt:xTicks2, ymax:0.1697, yt:yTicks16, dec:2, yGap:30, xGap:17, fs:10,
   layers:[['dgreen',null,pt50_dgreen_fit],['dblue',pt50i_dblue_pts,pt50i_dblue_fit],['orange',pt50i_orange_pts,pt50i_orange_fit],['gold',pt50_gold_pts,pt50_gold_fit],['magenta',pt50_magenta_pts,pt50_magenta_fit],['cyan',pt50_cyan_pts,pt50_cyan_fit],['green',pt50_green_pts,pt50_green_fit],['blue',pt50_blue_pts,pt50_blue_fit],['purple',pt50_purple_pts,pt50i_purple_fit],['red',pt50_red_pts,pt50i_red_fit]]}
];

const AX = '#444';
const TXT = '#1a1a1a';
const FONT = 'DejaVu Sans';
const grid = [], xAxis = [], yAxis = [], series = [];
panels.forEach((p, i) => {
  grid.push({left:p.box[0], top:p.box[1], width:p.box[2], height:p.box[3], show:true, borderColor:'#7a7a7a', borderWidth:1, containLabel:false});
  xAxis.push({
    gridIndex:i, type:'value', min:0, max:p.xmax, interval:0.5,
    name:xTitle, nameLocation:'middle', nameGap:p.xGap,
    nameTextStyle:{fontFamily:FONT, fontSize:12, color:TXT},
    axisLine:{show:true, onZero:false, lineStyle:{color:AX, width:1}},
    axisTick:{show:true, length:3.5, lineStyle:{color:AX}, customValues:p.xt},
    axisLabel:{fontFamily:FONT, fontSize:p.fs, color:TXT, margin:5, customValues:p.xt, formatter:v=>v.toFixed(1)},
    splitLine:{show:false}
  });
  const step = p.yt[1] - p.yt[0];
  yAxis.push({
    gridIndex:i, type:'value', min:0, max:p.ymax, interval:step,
    name:yTitle, nameLocation:'middle', nameGap:p.yGap,
    nameTextStyle:{fontFamily:FONT, fontSize:12, color:TXT},
    axisLine:{show:true, onZero:false, lineStyle:{color:AX, width:1}},
    axisTick:{show:true, length:3.5, lineStyle:{color:AX}, customValues:p.yt},
    axisLabel:{fontFamily:FONT, fontSize:p.fs, color:TXT, margin:5, customValues:p.yt, formatter:v=>v.toFixed(p.dec)},
    splitLine:{show:false}
  });
  p.layers.forEach(([col, pts, fit]) => {
    if (pts) series.push({type:'scatter', xAxisIndex:i, yAxisIndex:i, data:pts, symbolSize:5.5,
      itemStyle:{color:C[col], opacity:1}, z:2, silent:true});
    if (fit) series.push({type:'line', xAxisIndex:i, yAxisIndex:i, data:fit, showSymbol:false, symbol:'none',
      smooth:0.4, smoothMonotone:'x', clip:true, lineStyle:{color:C[col], width:1.7}, z:3, silent:true});
  });
});

// ---------- headings ----------
const HEAD = 'Lato';
const graphic = [
  {type:'text', left:9, top:3, style:{text:substrateTitles[0], font:'bold 33px '+HEAD, fill:'#1068c0'}},
  {type:'text', left:11, top:502, style:{text:substrateTitles[1], font:'bold 33px '+HEAD, fill:'#1068c0'}}
];
[313, 600, 891].forEach((cx, k) => graphic.push({type:'text', x:cx, y:23,
  style:{text:columnTitles[k], font:'22px '+HEAD, fill:'#000', align:'center', verticalAlign:'middle'}}));
const rowCenters = [[107,135,163],[348,377],[610,639,667],[852,881]];
rowCenters.forEach((ys, r) => ys.forEach((y, j) => graphic.push({type:'text', x:60, y:y,
  style:{text:rowTitles[r % 2][j], font:'22px '+HEAD, fill:'#000', align:'center', verticalAlign:'middle'}})));

const chart = echarts.init(document.getElementById('c'), null, {renderer:'canvas'});
chart.setOption({animation:false, backgroundColor:'#fff', grid, xAxis, yAxis, series, graphic});
</script></body></html>
